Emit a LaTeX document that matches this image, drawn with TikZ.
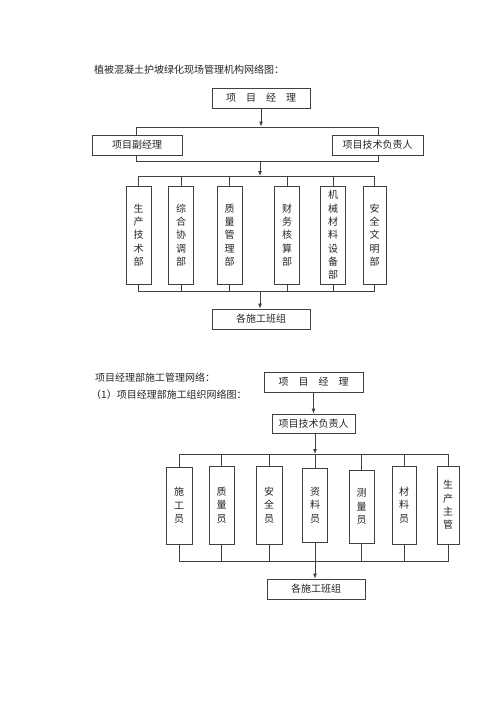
\documentclass[tikz,border=0pt]{standalone}
\usepackage{fontspec}
\newfontfamily\cjk{Noto Sans CJK SC}
\usetikzlibrary{arrows.meta}
\definecolor{lc}{gray}{0.25}
\definecolor{tc}{gray}{0.15}
\tikzset{
  ln/.style={draw=lc, line width=0.8pt},
  arr/.style={ln, -{Latex[length=5pt,width=4pt]}},
  box/.style={ln, fill=white, inner sep=0pt, text=tc, font=\cjk\fontsize{10}{13.3}\selectfont, align=center},
  hbox/.style={box, minimum height=20pt},
  vbox/.style={box, minimum width=25pt},
  title/.style={anchor=west, inner sep=0pt, text=tc, font=\cjk\fontsize{10}{12}\selectfont}
}
\begin{document}
\begin{tikzpicture}[x=1pt,y=-1pt]
\useasboundingbox[fill=white] (0,0) rectangle (500,707);

% ---------- Diagram 1 ----------
\node[title] (t1) at (94,70) {植被混凝土护坡绿化现场管理机构网络图：};
\node[hbox, minimum width=98pt] (pm1) at (261,98) {项\quad 目\quad 经\quad 理};
\node[ln, inner sep=0pt, minimum width=242pt, minimum height=34pt] (big) at (257,144) {};
\node[hbox, minimum width=90pt] (vice) at (137,145) {项目副经理};
\node[hbox, minimum width=91pt] (tech1) at (377.5,145) {项目技术负责人};
\draw[arr] (pm1.south) -- (pm1.south |- big.north);

\node[vbox, minimum height=98pt] (d1) at (138.5,235) {生\\产\\技\\术\\部};
\node[vbox, minimum height=98pt] (d2) at (181,235) {综\\合\\协\\调\\部};
\node[vbox, minimum height=98pt] (d3) at (229.5,235) {质\\量\\管\\理\\部};
\node[vbox, minimum height=98pt] (d4) at (287,235) {财\\务\\核\\算\\部};
\node[vbox, minimum height=98pt] (d5) at (333,235) {机\\械\\材\\料\\设\\备\\部};
\node[vbox, minimum height=98pt, minimum width=23pt] (d6) at (374.5,235) {安\\全\\文\\明\\部};

\coordinate (h1) at (260,176);
\coordinate (h2) at (260,291);
\draw[arr] (h1 |- big.south) -- (h1);
\draw[ln] (d1.north) -- (d1.north |- h1) -- (d6.north |- h1) -- (d6.north);
\draw[ln] (d1.south) -- (d1.south |- h2) -- (d6.south |- h2) -- (d6.south);
\foreach \n in {d2,d3,d4,d5}{
  \draw[ln] (\n.north) -- (\n.north |- h1);
  \draw[ln] (\n.south) -- (\n.south |- h2);
}
\node[hbox, minimum width=98pt] (team1) at (261,319) {各施工班组};
\draw[arr] (h2) -- (h2 |- team1.north);

% ---------- Diagram 2 ----------
\node[title] (t2) at (95,378) {项目经理部施工管理网络：};
\node[title] (t3) at (91,395) {（1）项目经理部施工组织网络图：};
\node[hbox, minimum width=99pt] (pm2) at (313.5,382) {项\quad 目\quad 经\quad 理};
\node[hbox, minimum width=83pt, minimum height=19pt] (tech2) at (313.5,423.5) {项目技术负责人};
\draw[arr] (pm2.south) -- (pm2.south |- tech2.north);

\node[vbox, minimum width=26pt, minimum height=77pt] (e1) at (179,505.5) {施\\工\\员};
\node[vbox, minimum height=78pt] (e2) at (221.5,505) {质\\量\\员};
\node[vbox, minimum width=26pt, minimum height=78pt] (e3) at (269,505) {安\\全\\员};
\node[vbox, minimum height=74pt] (e4) at (315,505) {资\\料\\员};
\node[vbox, minimum height=73pt] (e5) at (361.5,506.5) {测\\量\\员};
\node[vbox, minimum width=24pt, minimum height=78pt] (e6) at (404,505) {材\\料\\员};
\node[vbox, minimum width=22pt, minimum height=78pt] (e7) at (448,505) {生\\产\\主\\管};

\coordinate (h3) at (315,454);
\coordinate (h4) at (315,561);
\draw[arr] (tech2.south -| h3) -- (h3);
\draw[ln] (e1.north) -- (e1.north |- h3) -- (e7.north |- h3) -- (e7.north);
\draw[ln] (e1.south) -- (e1.south |- h4) -- (e7.south |- h4) -- (e7.south);
\foreach \n in {e2,e3,e4,e5,e6}{
  \draw[ln] (\n.north) -- (\n.north |- h3);
  \draw[ln] (\n.south) -- (\n.south |- h4);
}
\node[hbox, minimum width=98pt] (team2) at (316,589) {各施工班组};
\draw[arr] (h4) -- (h4 |- team2.north);
\end{tikzpicture}
\end{document}
